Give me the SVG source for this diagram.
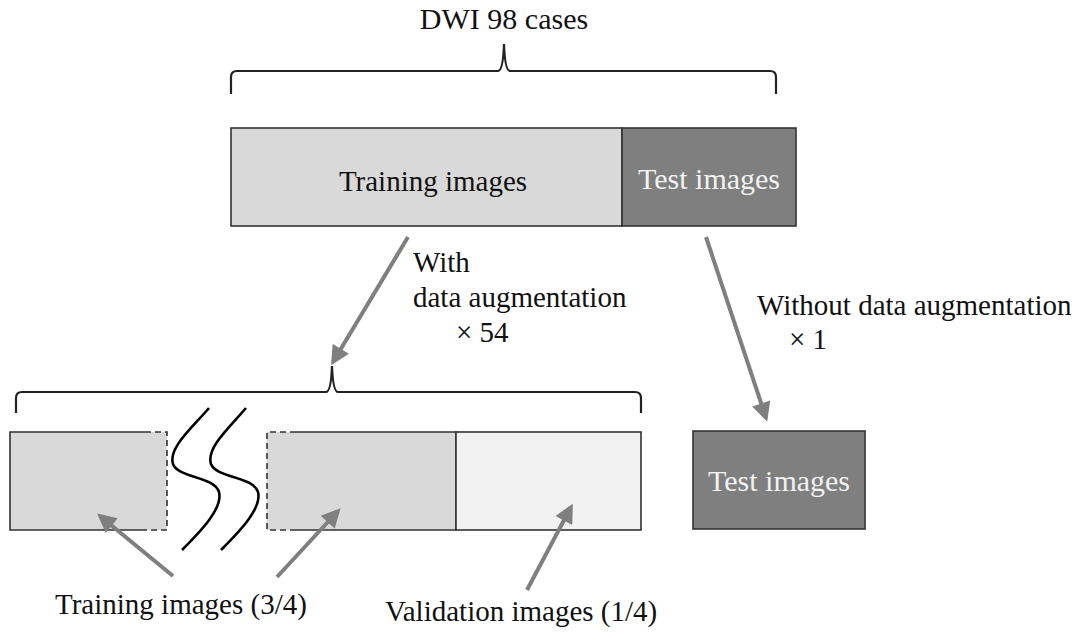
<svg xmlns="http://www.w3.org/2000/svg" width="1074" height="632" viewBox="0 0 1074 632">
  <style>
    text { font-family: "Liberation Serif", "Times New Roman", serif; font-size: 29px; fill: #111; }
    .light { fill: #f2f2f2; font-size: 30px; }
    .title { font-size: 30px; }
    .brace { fill: none; stroke: #222; stroke-width: 2.2; }
    .box { stroke: #333; stroke-width: 1.6; }
    .dash { fill: none; stroke: #333; stroke-width: 1.6; stroke-dasharray: 6 4; }
    .conn { stroke: #7f7f7f; stroke-width: 4; fill: none; marker-end: url(#head); }
    .wave { fill: none; stroke: #000; stroke-width: 2.6; }
  </style>
  <defs>
    <marker id="head" viewBox="0 0 10 10" refX="8" refY="5" markerUnits="userSpaceOnUse" markerWidth="22" markerHeight="19" orient="auto">
      <path d="M0,0 L10,5 L0,10 z" fill="#7f7f7f"/>
    </marker>
  </defs>

  <!-- top brace and title -->
  <g id="title">
    <text class="title" x="504" y="29" text-anchor="middle">DWI 98 cases</text>
    <path class="brace" d="M231 94 V77 Q231 71 237 71 H498 Q503 71 504 44 Q505 71 510 71 H770 Q776 71 776 77 V94"/>
  </g>

  <!-- full data set -->
  <g id="training-all">
    <rect class="box" x="231" y="128" width="391" height="98" fill="#d9d9d9"/>
    <text x="433" y="191" text-anchor="middle">Training images</text>
  </g>
  <g id="test-all">
    <rect class="box" x="622" y="128" width="174" height="98" fill="#7f7f7f"/>
    <text class="light" x="709" y="189" text-anchor="middle">Test images</text>
  </g>

  <!-- augmentation labels -->
  <g id="label-with">
    <text x="413" y="272">With</text>
    <text x="413" y="307">data augmentation</text>
    <text x="456" y="342">× 54</text>
  </g>
  <g id="label-without">
    <text x="757" y="315">Without data augmentation</text>
    <text x="789" y="349">× 1</text>
  </g>

  <!-- lower brace -->
  <g id="split-brace">
    <path class="brace" d="M16 413 V398 Q16 392 22 392 H326 Q331 392 332 366 Q333 392 338 392 H635 Q641 392 641 398 V413"/>
  </g>

  <!-- split training set -->
  <g id="train-part-a">
    <rect x="10" y="432" width="157" height="98" fill="#d9d9d9"/>
    <path class="box" fill="none" d="M145 432 H10 V530 H145"/>
    <path class="dash" d="M145 432 H167 V530 H145"/>
  </g>
  <g id="break-mark">
    <path class="wave" d="M209 408 C192 428 168 448 173 464 C178 478 214 476 219 492 C223 508 202 530 182 550"/>
    <path class="wave" d="M246 408 C229 428 206 448 211 464 C216 478 253 476 258 492 C262 508 241 530 221 550"/>
  </g>
  <g id="train-part-b">
    <rect x="267" y="432" width="189" height="98" fill="#d9d9d9"/>
    <path class="dash" d="M296 432 H267 V530 H296"/>
    <path class="box" fill="none" d="M296 432 H456 V530 H296"/>
  </g>
  <g id="validation">
    <rect class="box" x="456" y="432" width="185" height="98" fill="#f2f2f2"/>
  </g>

  <!-- separate test set -->
  <g id="test-final">
    <rect class="box" x="693" y="431" width="172" height="98" fill="#7f7f7f"/>
    <text class="light" x="779" y="491" text-anchor="middle">Test images</text>
  </g>

  <!-- bottom labels -->
  <g id="label-train">
    <text x="55" y="614">Training images (3/4)</text>
  </g>
  <g id="label-val">
    <text x="385" y="621">Validation images (1/4)</text>
  </g>

  <!-- connectors -->
  <g id="connectors">
    <line class="conn" x1="408" y1="237" x2="333" y2="362"/>
    <line class="conn" x1="706" y1="237" x2="766" y2="418"/>
    <line class="conn" x1="173" y1="576" x2="100" y2="516"/>
    <line class="conn" x1="277" y1="577" x2="338" y2="511"/>
    <line class="conn" x1="527" y1="590" x2="571" y2="507"/>
  </g>
</svg>
